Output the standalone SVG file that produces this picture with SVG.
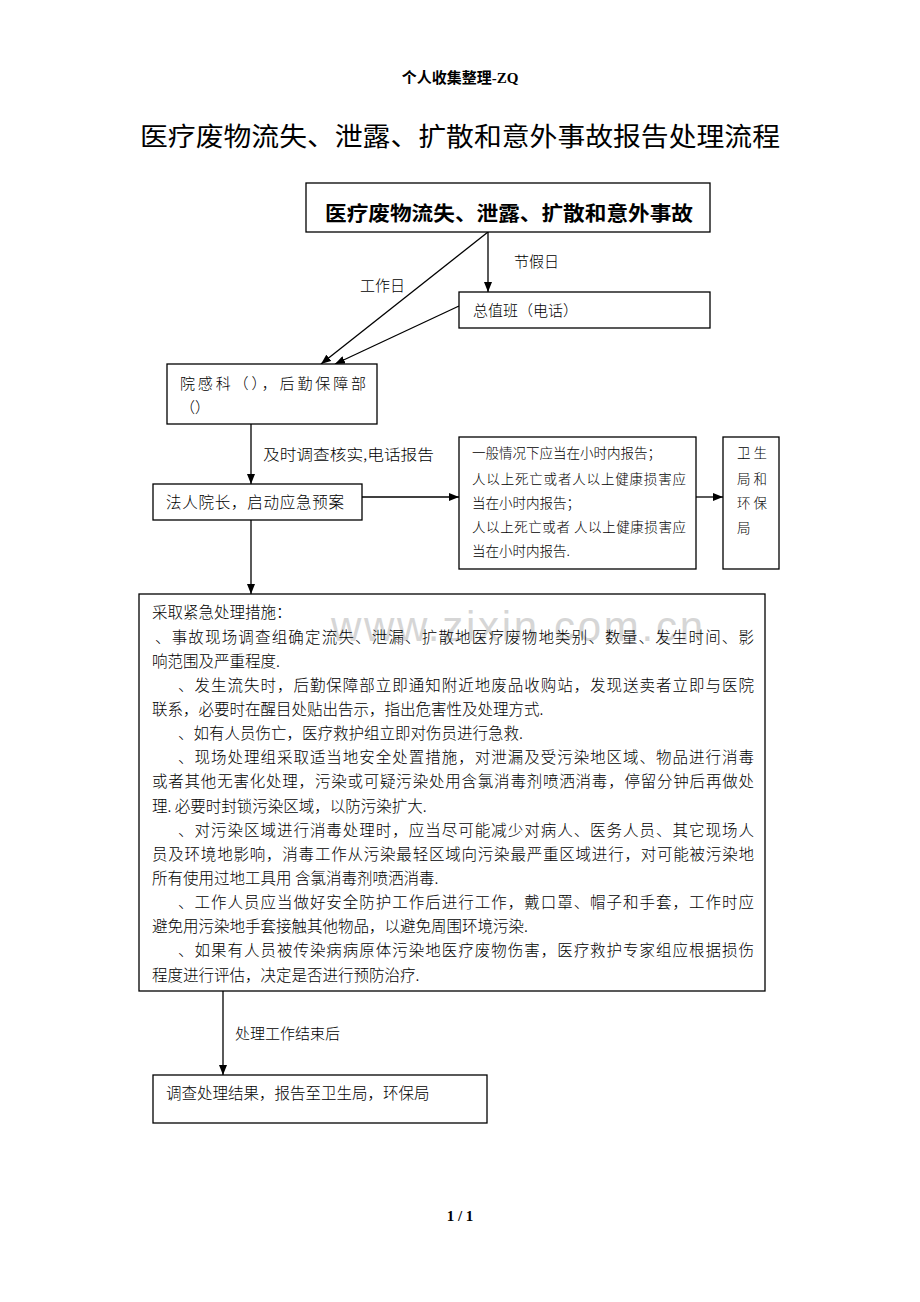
<svg xmlns="http://www.w3.org/2000/svg" width="920" height="1302" viewBox="0 0 920 1302">
<style>
.bx{fill:#fff;stroke:#000;stroke-width:1.3}
.ln{fill:none;stroke:#000;stroke-width:1.3}
text{font-family:"Noto Sans CJK SC","Liberation Sans",sans-serif;fill:#000}
.t{font-size:15px;font-weight:300}
.s{font-size:13.5px;font-weight:300}
.b{font-size:15.5px;font-weight:300}
.hd{font-family:"Liberation Serif","Noto Sans CJK SC",serif;font-weight:bold;font-size:15px}
.wm{font-family:"Liberation Sans",sans-serif;font-size:42px;fill:#d6d6d6}
</style>
<defs>
<marker id="ah" viewBox="0 0 10 8" refX="10" refY="4" markerWidth="10" markerHeight="8" markerUnits="userSpaceOnUse" orient="auto">
<path d="M0,0 L10,4 L0,8 z" fill="#000"/>
</marker>
</defs>
<rect width="920" height="1302" fill="#fff"/>
<text class="hd" x="460" y="83" text-anchor="middle">个人收集整理-ZQ</text>
<text x="140" y="146" font-size="26" textLength="640" lengthAdjust="spacingAndGlyphs">医疗废物流失、泄露、扩散和意外事故报告处理流程</text>

<g id="connectors">
<line class="ln" x1="488" y1="232" x2="488" y2="292" marker-end="url(#ah)"/>
<line class="ln" x1="488" y1="232" x2="321" y2="364" marker-end="url(#ah)"/>
<line class="ln" x1="459" y1="306" x2="335" y2="364" marker-end="url(#ah)"/>
<line class="ln" x1="251" y1="424" x2="251" y2="484" marker-end="url(#ah)"/>
<line class="ln" x1="362" y1="497" x2="459" y2="497" marker-end="url(#ah)"/>
<line class="ln" x1="696" y1="497" x2="723" y2="497" marker-end="url(#ah)"/>
<line class="ln" x1="251" y1="520" x2="251" y2="594" marker-end="url(#ah)"/>
<line class="ln" x1="223" y1="991" x2="223" y2="1075" marker-end="url(#ah)"/>
<text class="t" x="514" y="267">节假日</text>
<text class="t" x="360" y="291">工作日</text>
<text class="t" x="263" y="460" textLength="171" lengthAdjust="spacingAndGlyphs">及时调查核实,电话报告</text>
<text class="t" x="235" y="1039">处理工作结束后</text>
</g>

<g id="n1">
<rect class="bx" x="306" y="183" width="404" height="49"/>
<text x="325" y="221" font-size="20" font-weight="bold" textLength="368" lengthAdjust="spacingAndGlyphs">医疗废物流失、泄露、扩散和意外事故</text>
</g>
<g id="n2">
<rect class="bx" x="459" y="292" width="251" height="36"/>
<text class="t" x="473" y="316">总值班（电话）</text>
</g>
<g id="n3">
<rect class="bx" x="167" y="364" width="210" height="60"/>
<text class="t" x="180" y="389" textLength="186" lengthAdjust="spacing">院感科（），后勤保障部</text>
<text class="t" x="180" y="413">（）</text>
</g>
<g id="n4">
<rect class="bx" x="153" y="484" width="209" height="36"/>
<text class="b" x="166" y="508" textLength="178" lengthAdjust="spacing">法人院长，启动应急预案</text>
</g>
<g id="n5">
<rect class="bx" x="459" y="437" width="237" height="132"/>
<text class="s" x="472" y="458">一般情况下应当在小时内报告；</text>
<text class="s" x="472" y="484" textLength="214" lengthAdjust="spacing">人以上死亡或者人以上健康损害应</text>
<text class="s" x="472" y="508">当在小时内报告；</text>
<text class="s" x="472" y="532" textLength="214" lengthAdjust="spacing">人以上死亡或者  人以上健康损害应</text>
<text class="s" x="472" y="556">当在小时内报告.</text>
</g>
<g id="n6">
<rect class="bx" x="723" y="437" width="56" height="132"/>
<text class="s" x="737" y="458">卫 生</text>
<text class="s" x="737" y="484">局 和</text>
<text class="s" x="737" y="508">环 保</text>
<text class="s" x="737" y="533">局</text>
</g>
<g id="n7">
<rect class="bx" x="139" y="594" width="626" height="397"/>
<text class="wm" x="331" y="641" textLength="372" lengthAdjust="spacing">www.zixin.com.cn</text>
<text class="b" x="152" y="618">采取紧急处理措施：</text>
<text class="b" x="155" y="643" textLength="599" lengthAdjust="spacing">、事故现场调查组确定流失、泄漏、扩散地医疗废物地类别、数量、发生时间、影</text>
<text class="b" x="152" y="667">响范围及严重程度.</text>
<text class="b" x="178" y="691" textLength="576" lengthAdjust="spacing">、发生流失时，后勤保障部立即通知附近地废品收购站，发现送卖者立即与医院</text>
<text class="b" x="152" y="715">联系，必要时在醒目处贴出告示，指出危害性及处理方式.</text>
<text class="b" x="178" y="739">、如有人员伤亡，医疗救护组立即对伤员进行急救.</text>
<text class="b" x="178" y="763" textLength="576" lengthAdjust="spacing">、现场处理组采取适当地安全处置措施，对泄漏及受污染地区域、物品进行消毒</text>
<text class="b" x="152" y="787" textLength="602" lengthAdjust="spacing">或者其他无害化处理，污染或可疑污染处用含氯消毒剂喷洒消毒，停留分钟后再做处</text>
<text class="b" x="152" y="812">理. 必要时封锁污染区域，以防污染扩大.</text>
<text class="b" x="178" y="836" textLength="576" lengthAdjust="spacing">、对污染区域进行消毒处理时，应当尽可能减少对病人、医务人员、其它现场人</text>
<text class="b" x="152" y="860" textLength="602" lengthAdjust="spacing">员及环境地影响，消毒工作从污染最轻区域向污染最严重区域进行，对可能被污染地</text>
<text class="b" x="152" y="884">所有使用过地工具用  含氯消毒剂喷洒消毒.</text>
<text class="b" x="178" y="908" textLength="576" lengthAdjust="spacing">、工作人员应当做好安全防护工作后进行工作，戴口罩、帽子和手套，工作时应</text>
<text class="b" x="152" y="932">避免用污染地手套接触其他物品，以避免周围环境污染.</text>
<text class="b" x="178" y="956" textLength="576" lengthAdjust="spacing">、如果有人员被传染病病原体污染地医疗废物伤害，医疗救护专家组应根据损伤</text>
<text class="b" x="152" y="981">程度进行评估，决定是否进行预防治疗.</text>
</g>
<g id="n8">
<rect class="bx" x="153" y="1075" width="334" height="48"/>
<text class="b" x="166" y="1099">调查处理结果，报告至卫生局，环保局</text>
</g>
<text class="hd" x="460" y="1221" text-anchor="middle">1  / 1</text>
</svg>
